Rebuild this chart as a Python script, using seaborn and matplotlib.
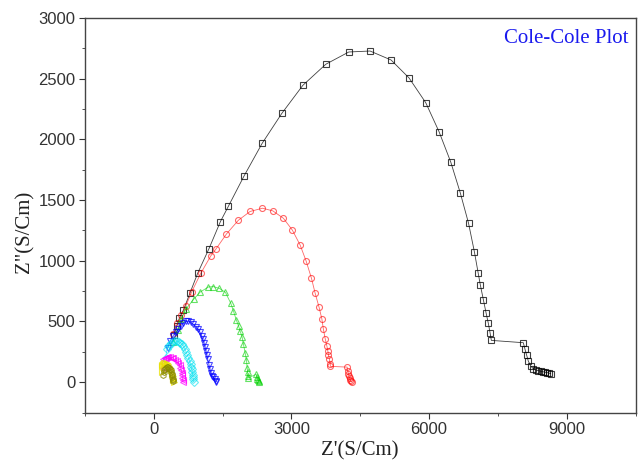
import matplotlib
matplotlib.use("Agg")
import matplotlib.pyplot as plt
import seaborn as sns
import pandas as pd
from matplotlib.ticker import MultipleLocator

# ---- data ----
black_x = [440, 502, 559, 646, 792, 958, 1204, 1452, 1627, 1969, 2361, 2790, 3248, 3749, 4250, 4714,
           5172, 5564, 5928, 6218, 6473, 6680, 6860, 6990, 7070, 7118, 7183, 7242, 7292, 7329, 7358,
           8055, 8092, 8129, 8164, 8217, 8275, 8330, 8380, 8430, 8480, 8530, 8580, 8620, 8651]
black_y = [390, 462, 531, 594, 738, 899, 1101, 1323, 1450, 1700, 1967, 2214, 2445, 2619, 2720, 2728,
           2654, 2506, 2302, 2063, 1813, 1560, 1310, 1070, 900, 800, 680, 572, 484, 408, 344,
           325, 270, 220, 173, 132, 110, 100, 95, 90, 86, 82, 78, 74, 70]

red_x = [420, 516, 603, 697, 828, 1024, 1242, 1351, 1584, 1844, 2098, 2369, 2594, 2825, 3021, 3189,
         3320, 3435, 3516, 3603, 3662, 3697, 3736, 3773, 3794, 3807, 3829, 3844, 3850,
         4215, 4225, 4240, 4255, 4270, 4285, 4300, 4310]
red_y = [400, 484, 550, 627, 746, 897, 1040, 1095, 1221, 1334, 1406, 1433, 1411, 1350, 1252, 1130,
         998, 858, 734, 616, 523, 435, 358, 297, 256, 223, 187, 152, 130,
         124, 95, 70, 50, 32, 18, 8, 2]

green_x = [420, 520, 600, 697, 867, 1013, 1191, 1300, 1431, 1560, 1679, 1736, 1800, 1850, 1882, 1926,
           1954, 1991, 2020, 2035, 2045, 2055, 2062, 2230, 2245, 2260, 2275, 2290, 2300]
green_y = [330, 430, 520, 600, 682, 743, 784, 787, 772, 740, 649, 586, 510, 460, 420, 370,
           311, 243, 180, 120, 80, 50, 35, 65, 45, 30, 18, 8, 3]

blue_x = [300, 356, 428, 480, 537, 590, 646, 700, 755, 810, 864, 920, 973, 1010, 1045, 1072, 1096, 1120,
          1140, 1160, 1176, 1205, 1228, 1250, 1265, 1300, 1330, 1350, 1365]
blue_y = [280, 338, 380, 410, 435, 465, 490, 500, 503, 492, 476, 458, 435, 410, 380, 352, 325, 290,
          256, 220, 187, 140, 105, 75, 50, 40, 25, 12, 5]

cyan_x = [260, 284, 320, 350, 385, 420, 460, 502, 540, 580, 615, 646, 675, 700, 730, 755, 780, 800,
          815, 829, 840, 850, 858, 864, 870]
cyan_y = [200, 270, 295, 310, 325, 335, 338, 338, 333, 325, 312, 297, 275, 250, 225, 201, 175, 150,
          128, 105, 82, 60, 40, 22, 5]

magenta_x = [190, 210, 235, 260, 290, 320, 355, 392, 425, 460, 500, 537, 560, 580, 597, 611, 620, 625, 630, 633]
magenta_y = [120, 187, 195, 200, 205, 208, 206, 201, 195, 185, 173, 160, 140, 120, 100, 78, 55, 35, 18, 5]

yellow_x = [170, 175, 185, 200, 225, 253, 280, 310, 335, 360, 380, 400, 412, 420, 426, 430]
yellow_y = [80, 132, 142, 150, 157, 160, 157, 150, 137, 120, 97, 70, 50, 30, 15, 5]

olive_x = [200, 215, 230, 250, 270, 290, 310, 330, 350, 365, 380, 392, 400, 406, 410, 415, 420]
olive_y = [60, 85, 100, 112, 120, 124, 125, 120, 110, 98, 85, 70, 55, 42, 30, 18, 10]

series = [
    ("black", black_x, black_y, "#000000", "s", 0.75),
    ("red", red_x, red_y, "#ff0000", "o", 0.6),
    ("green", green_x, green_y, "#00d000", "^", 0.6),
    ("blue", blue_x, blue_y, "#0000ff", "v", 0.7),
    ("cyan", cyan_x, cyan_y, "#00e0f0", "D", 0.6),
    ("magenta", magenta_x, magenta_y, "#ff00ff", "<", 0.7),
    ("yellow", yellow_x, yellow_y, "#e8e000", ">", 0.75),
    ("olive", olive_x, olive_y, "#8a8a00", "h", 0.75),
]

sns.set_theme(style="white")
plt.rcParams["font.family"] = ["Liberation Sans", "DejaVu Sans"]

fig = plt.figure(figsize=(6.39, 4.62), dpi=100)
ax = fig.add_axes([85 / 639, 1 - 412.5 / 462, (635.5 - 85) / 639, (412.5 - 18) / 462])

for name, xs, ys, col, mk, al in series:
    df = pd.DataFrame({"x": xs, "y": ys})
    sns.lineplot(data=df, x="x", y="y", ax=ax, sort=False, color=col, marker=mk,
                 markersize=4.3 if mk != "D" else 3.6, markerfacecolor="none",
                 markeredgecolor=col, markeredgewidth=0.8, linewidth=0.6, alpha=al)

ax.set_xlim(-1500, 10500)
ax.set_ylim(-250, 3000)
ax.xaxis.set_major_locator(MultipleLocator(3000))
ax.xaxis.set_minor_locator(MultipleLocator(1500))
ax.yaxis.set_major_locator(MultipleLocator(500))
ax.yaxis.set_minor_locator(MultipleLocator(250))
ax.tick_params(axis="both", which="major", direction="out", length=4, width=0.8,
               colors="#333333", labelsize=12, bottom=True, left=True, top=False, right=False, pad=3)
ax.tick_params(axis="both", which="minor", direction="out", length=2.5, width=0.6,
               colors="#333333", bottom=True, left=True, top=False, right=False)
for sp in ax.spines.values():
    sp.set_color("#444444")
    sp.set_linewidth(1.0)

serif = ["Liberation Serif", "DejaVu Serif"]
ax.set_xlabel("Z'(S/Cm)", family=serif, fontsize=15, color="#222222", labelpad=3)
ax.set_ylabel('Z"(S/Cm)', family=serif, fontsize=15, color="#222222")
ax.yaxis.set_label_coords(-0.092, 0.4575)
ax.text(0.988, 0.948, "Cole-Cole Plot", transform=ax.transAxes, ha="right", va="center",
        family=serif, fontsize=15, color="#1a1aee")

fig.savefig("out.png", dpi=100)
